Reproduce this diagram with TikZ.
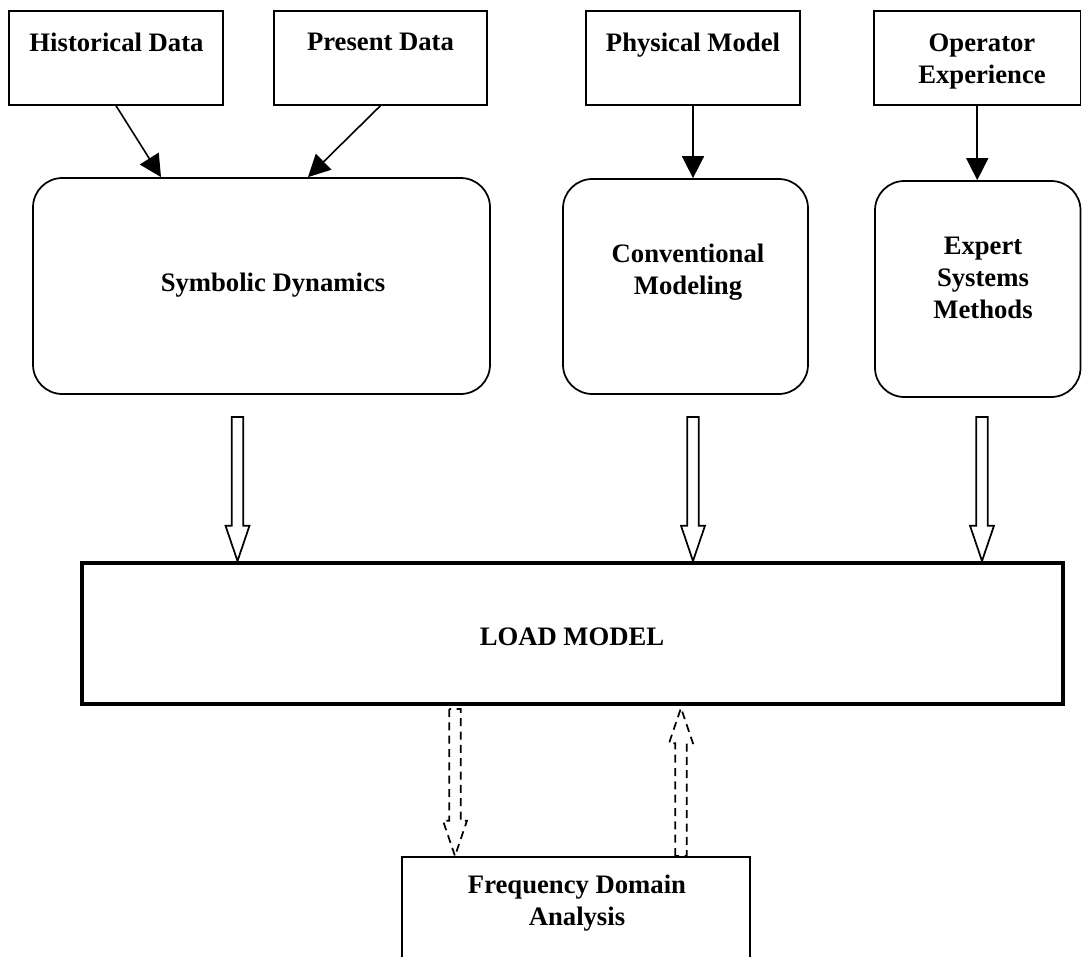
\documentclass[tikz,border=0pt]{standalone}
\usepackage{fontspec}
\setmainfont{Liberation Serif}
\usetikzlibrary{arrows.meta,calc,fit}

\begin{document}
\begin{tikzpicture}[x=0.75pt,y=-0.75pt,
  txt/.style={font=\bfseries\fontsize{20}{24}\selectfont, align=center, inner sep=0pt},
  srcbox/.style={draw, line width=1pt, inner sep=0pt},
  procbox/.style={draw, line width=1.3pt, rounded corners=22pt, inner sep=0pt},
  loadbox/.style={draw, line width=3pt, inner sep=0pt},
  anbox/.style={draw, line width=1.5pt, inner sep=0pt},
  feed/.style={line width=1.2pt, -{Triangle[length=16.5pt,width=16.5pt]}},
  fatdown/.style={line width=1.3pt, to path={
    let \p1=(\tikztostart), \p2=(\tikztotarget) in
    ({\x1-4.3pt},\y1) -- ({\x1-4.3pt},{\y2+26.5pt}) -- ({\x1-9pt},{\y2+26.5pt})
    -- (\x1,\y2) -- ({\x1+9pt},{\y2+26.5pt}) -- ({\x1+4.3pt},{\y2+26.5pt})
    -- ({\x1+4.3pt},\y1) -- cycle}},
  fatup/.style={line width=1.3pt, to path={
    let \p1=(\tikztostart), \p2=(\tikztotarget) in
    ({\x1-4.3pt},\y1) -- ({\x1-4.3pt},{\y2-26.5pt}) -- ({\x1-9pt},{\y2-26.5pt})
    -- (\x1,\y2) -- ({\x1+9pt},{\y2-26.5pt}) -- ({\x1+4.3pt},{\y2-26.5pt})
    -- ({\x1+4.3pt},\y1) -- cycle}},
  dashline/.style={dash pattern=on 6pt off 4pt}
]
\clip (0,0) rectangle (1082,957);

% data sources
\node[srcbox, fit={(9,11) (223,105)}] (hist) {};
\node[srcbox, fit={(274,11) (487,105)}] (pres) {};
\node[srcbox, fit={(586,11) (800,105)}] (phys) {};
\node[srcbox, fit={(874,11) (1080.5,105)}] (oper) {};
\node[txt] (hist-t) at (116.5,42) {Historical Data};
\node[txt] (pres-t) at (380.5,42) {Present Data};
\node[txt] (phys-t) at (693,45.5) {Physical Model};
\node[txt] (oper-t) at (982,61.5) {Operator\\Experience};

% modelling methods
\node[procbox, fit={(33,178) (490,394)}] (sd) {};
\node[procbox, fit={(563,179) (808,394)}] (conv) {};
\node[procbox, fit={(875,181) (1080.5,397)}] (exp) {};
\node[txt] (sd-t) at (273,285) {Symbolic Dynamics};
\node[txt] (conv-t) at (688,272) {Conventional\\Modeling};
\node[txt] (exp-t) at (983,277.5) {Expert\\Systems\\Methods};

% load model and analysis
\node[loadbox, fit={(82,563) (1063,704)}] (load) {};
\node[txt] (load-t) at (572,637) {LOAD MODEL};
\node[anbox, fit={(402,857) (750,1000)}] (freq) {};
\node[txt] (freq-t) at (577,903.5) {Frequency Domain\\Analysis};

% inputs to the methods
\draw[feed] (hist.south) -- (161,0 |- sd.north);
\draw[feed] (pres.south) -- (308,0 |- sd.north);
\draw[feed] (phys.south) -- (phys.south |- conv.north);
\draw[feed] (oper.south) -- (oper.south |- exp.north);

% methods feeding the load model
\coordinate (h1) at (237.5,417);
\coordinate (h2) at (693,417);
\coordinate (h3) at (982,417);
\draw[fatdown] (h1) to (h1 |- load.north);
\draw[fatdown] (h2) to (h2 |- load.north);
\draw[fatdown] (h3) to (h3 |- load.north);

% exchange with frequency domain analysis
\coordinate (d1) at (455,709);
\draw[fatdown, dashline] (d1) to (d1 |- freq.north);
\coordinate (u1) at (681,0 |- freq.north);
\coordinate (u1t) at (681,708);
\draw[fatup, dashline] (u1) to (u1t);
\end{tikzpicture}
\end{document}
